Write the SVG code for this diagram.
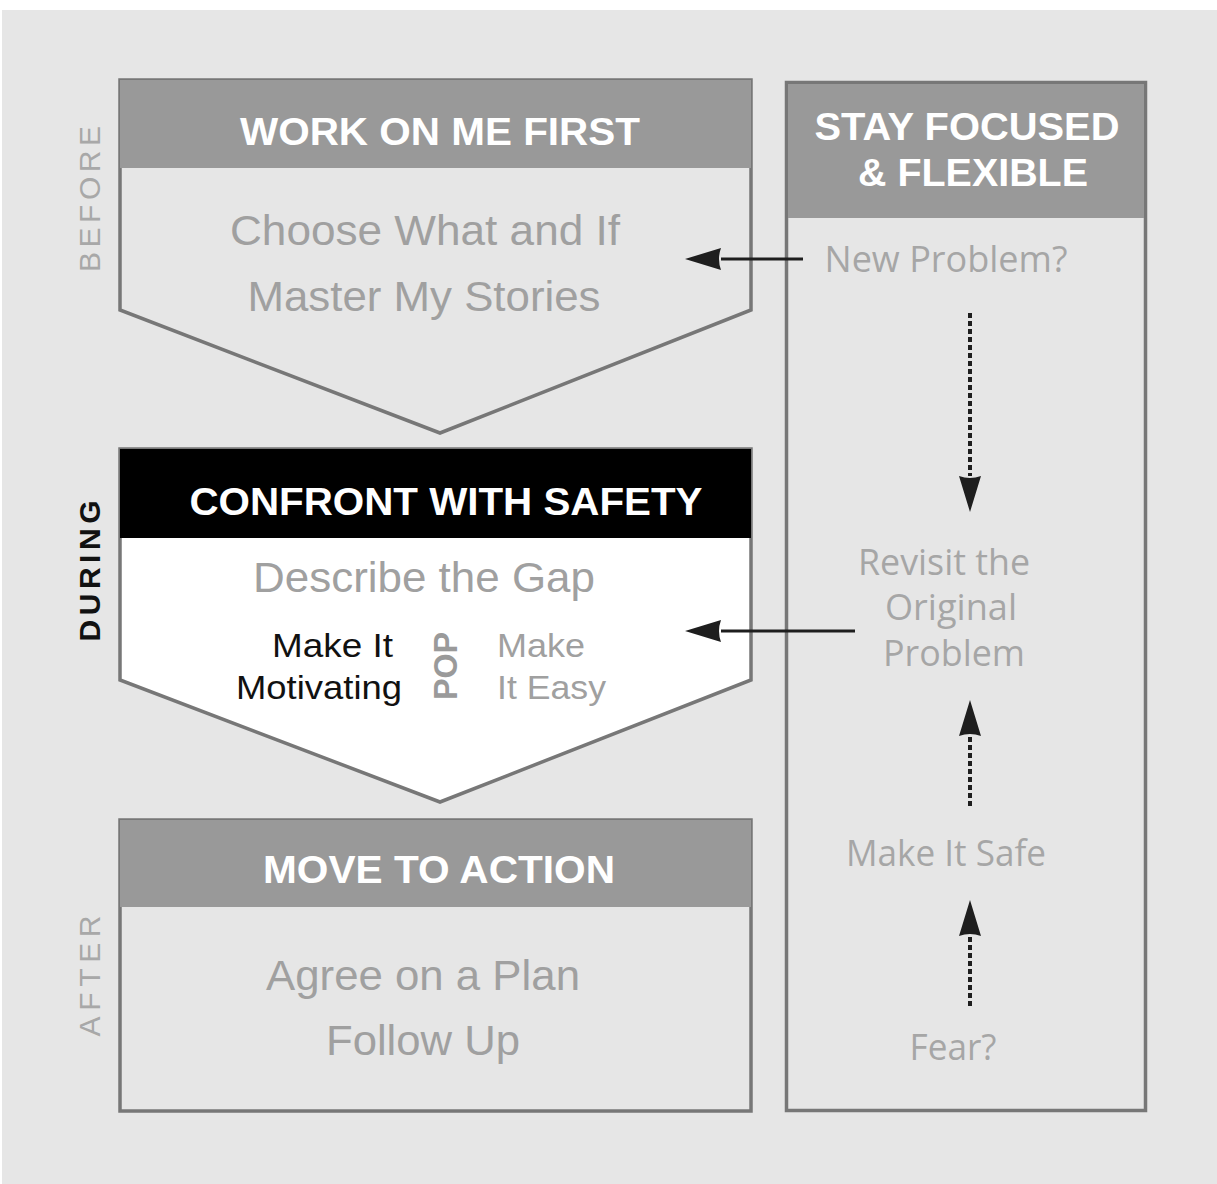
<svg xmlns="http://www.w3.org/2000/svg" width="1217" height="1184" viewBox="0 0 1217 1184">
<defs>
<style>
.hdr{fill:#999999}
.box{stroke:#777777;stroke-width:3.5}
.ht{font-family:"Liberation Sans",Arial,sans-serif;font-weight:bold;fill:#ffffff;font-size:38px;text-anchor:middle}
.bt{font-family:"Liberation Sans",Arial,sans-serif;fill:#a0a0a0;font-size:42px;text-anchor:middle}
.rt{font-family:"Open Sans","Noto Sans",sans-serif;fill:#a6a6a6;font-size:36px;text-anchor:middle}
.side{font-family:"Liberation Sans",Arial,sans-serif;font-size:30px;text-anchor:middle;letter-spacing:6px}
.pop{font-family:"Liberation Sans",Arial,sans-serif;font-size:33px}
.con{fill:none;stroke:#1e1e1e;stroke-width:3}
.dash{stroke-width:4;stroke-dasharray:5 3}
</style>
<marker id="ah" markerUnits="userSpaceOnUse" markerWidth="40" markerHeight="26" viewBox="0 -13 40 26" refX="0" refY="0" orient="auto">
<path d="M0,-11 L36,0 L0,11 Q4,0 0,-11 Z" fill="#1e1e1e"/>
</marker>
</defs>
<rect x="0" y="0" width="1217" height="1184" fill="#ffffff"/>
<rect x="2" y="10" width="1215" height="1174" fill="#e6e6e6"/>

<g id="before-label">
<text class="side" transform="translate(100,196) rotate(-90)" fill="#a8a8a8" textLength="152">BEFORE</text>
</g>
<g id="during-label">
<text class="side" transform="translate(100,568) rotate(-90)" fill="#111111" font-weight="bold" textLength="147">DURING</text>
</g>
<g id="after-label">
<text class="side" transform="translate(100,973) rotate(-90)" fill="#a8a8a8" textLength="127">AFTER</text>
</g>

<g id="work-on-me-first">
<polygon class="box" points="120,80 751,80 751,310 440,433 120,310" fill="#e6e6e6"/>
<rect class="hdr" x="120" y="80" width="631" height="88"/>
<text class="ht" x="440" y="145" textLength="400" lengthAdjust="spacingAndGlyphs">WORK ON ME FIRST</text>
<text class="bt" x="425" y="245" textLength="390" lengthAdjust="spacingAndGlyphs">Choose What and If</text>
<text class="bt" x="424" y="311" textLength="353" lengthAdjust="spacingAndGlyphs">Master My Stories</text>
</g>

<g id="confront-with-safety">
<polygon class="box" points="120,449 751,449 751,680 440,802 120,680" fill="#ffffff"/>
<rect x="120" y="449" width="631" height="89" fill="#000000"/>
<text class="ht" x="446" y="515" textLength="513" lengthAdjust="spacingAndGlyphs">CONFRONT WITH SAFETY</text>
<text class="bt" x="424" y="592" textLength="342" lengthAdjust="spacingAndGlyphs">Describe the Gap</text>
<text font-family="'Liberation Sans',Arial,sans-serif" font-size="33" fill="#111111" text-anchor="end" x="393" y="657" textLength="121" lengthAdjust="spacingAndGlyphs">Make It</text>
<text font-family="'Liberation Sans',Arial,sans-serif" font-size="33" fill="#111111" text-anchor="end" x="402" y="699" textLength="166" lengthAdjust="spacingAndGlyphs">Motivating</text>
<text class="pop" font-weight="bold" fill="#9a9a9a" text-anchor="middle" transform="translate(457,666) rotate(-90)" textLength="68" lengthAdjust="spacingAndGlyphs">POP</text>
<text font-family="'Liberation Sans',Arial,sans-serif" font-size="33" fill="#a0a0a0" x="497" y="657" textLength="88" lengthAdjust="spacingAndGlyphs">Make</text>
<text font-family="'Liberation Sans',Arial,sans-serif" font-size="33" fill="#a0a0a0" x="497" y="699" textLength="109" lengthAdjust="spacingAndGlyphs">It Easy</text>
</g>

<g id="move-to-action">
<rect class="box" x="120" y="820" width="631" height="291" fill="#e6e6e6"/>
<rect class="hdr" x="120" y="820" width="631" height="87"/>
<text class="ht" x="439" y="883" textLength="352" lengthAdjust="spacingAndGlyphs">MOVE TO ACTION</text>
<text class="bt" x="423" y="990" textLength="314" lengthAdjust="spacingAndGlyphs">Agree on a Plan</text>
<text class="bt" x="423" y="1055" textLength="194" lengthAdjust="spacingAndGlyphs">Follow Up</text>
</g>

<g id="stay-focused">
<rect class="box" x="786.5" y="82.5" width="359" height="1028" fill="#e6e6e6"/>
<rect class="hdr" x="788" y="84" width="356" height="134"/>
<text class="ht" x="967" y="140" textLength="305" lengthAdjust="spacingAndGlyphs">STAY FOCUSED</text>
<text class="ht" x="973" y="186" textLength="230" lengthAdjust="spacingAndGlyphs">&amp; FLEXIBLE</text>
</g>
<g id="new-problem">
<text class="rt" x="946" y="272" textLength="243" lengthAdjust="spacingAndGlyphs">New Problem?</text>
</g>
<g id="revisit">
<text class="rt" x="944" y="575" textLength="172" lengthAdjust="spacingAndGlyphs">Revisit the</text>
<text class="rt" x="951" y="620" textLength="132" lengthAdjust="spacingAndGlyphs">Original</text>
<text class="rt" x="954" y="666" textLength="142" lengthAdjust="spacingAndGlyphs">Problem</text>
</g>
<g id="make-it-safe">
<text class="rt" x="946" y="866" textLength="200" lengthAdjust="spacingAndGlyphs">Make It Safe</text>
</g>
<g id="fear">
<text class="rt" x="953" y="1060" textLength="87" lengthAdjust="spacingAndGlyphs">Fear?</text>
</g>

<g id="connectors">
<path class="con" d="M803,259 L721,259" marker-end="url(#ah)"/>
<path class="con" d="M855,631 L721,631" marker-end="url(#ah)"/>
<path class="con dash" d="M970,313 L970,476" marker-end="url(#ah)"/>
<path class="con dash" d="M970,806 L970,736" marker-end="url(#ah)"/>
<path class="con dash" d="M970,1006 L970,936" marker-end="url(#ah)"/>
</g>
</svg>
